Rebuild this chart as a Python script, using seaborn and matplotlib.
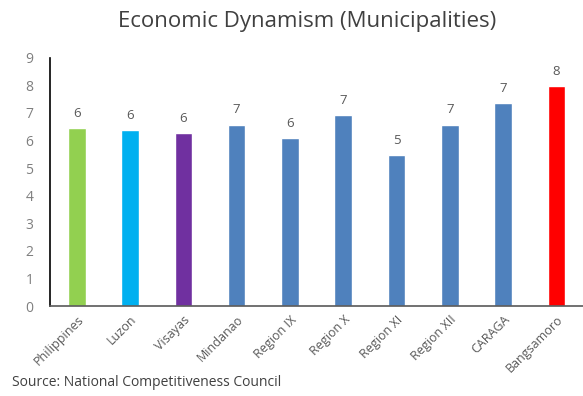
import matplotlib
matplotlib.use("Agg")
import matplotlib.pyplot as plt
import seaborn as sns
import pandas as pd

regions = ["Philippines", "Luzon", "Visayas", "Mindanao", "Region IX",
           "Region X", "Region XI", "Region XII", "CARAGA", "Bangsamoro"]
scores = [6.46, 6.39, 6.27, 6.58, 6.09, 6.91, 5.48, 6.58, 7.36, 7.97]
bar_colors = ["#92D050", "#00B0F0", "#7030A0", "#4F81BD", "#4F81BD",
              "#4F81BD", "#4F81BD", "#4F81BD", "#4F81BD", "#FF0000"]
y_ticks = list(range(0, 10))

sns.set_theme(style="white")
plt.rcParams["font.family"] = ["Open Sans", "DejaVu Sans"]

df = pd.DataFrame({"region": regions, "score": scores})

fig = plt.figure(figsize=(5.83, 3.96), dpi=100)
ax = fig.add_axes([0.086, 0.227, 0.914, 0.627])

sns.barplot(data=df, x="region", y="score", hue="region",
            palette=bar_colors, legend=False, width=0.33,
            saturation=1, ax=ax)

for i, v in enumerate(scores):
    ax.text(i, v + 0.3, f"{v:.0f}", ha="center", va="bottom",
            fontsize=9.5, color="#595959")

ax.set_ylim(0, 9)
ax.set_xlim(-0.5, len(regions) - 0.5)
ax.set_yticks(y_ticks)
ax.set_yticklabels([str(t) for t in y_ticks], fontsize=10, color="#7F7F7F")
ax.set_xticks(range(len(regions)))
ax.set_xticklabels(regions, rotation=45, ha="right", rotation_mode="anchor",
                   fontsize=9, color="#595959")
ax.tick_params(axis="y", length=0, pad=12)
ax.tick_params(axis="x", length=0, pad=5)
ax.set_xlabel("")
ax.set_ylabel("")

sns.despine(ax=ax, top=True, right=True)
ax.spines["left"].set_color("black")
ax.spines["left"].set_linewidth(1.2)
ax.spines["bottom"].set_color("#595959")
ax.spines["bottom"].set_linewidth(1.2)

fig.text(0.526, 0.945, "Economic Dynamism (Municipalities)", ha="center",
         va="center", fontsize=16, color="#404040")
fig.text(0.02, 0.033, "Source: National Competitiveness Council", ha="left",
         va="center", fontsize=10, color="#404040")

fig.savefig("out.png", dpi=100)
